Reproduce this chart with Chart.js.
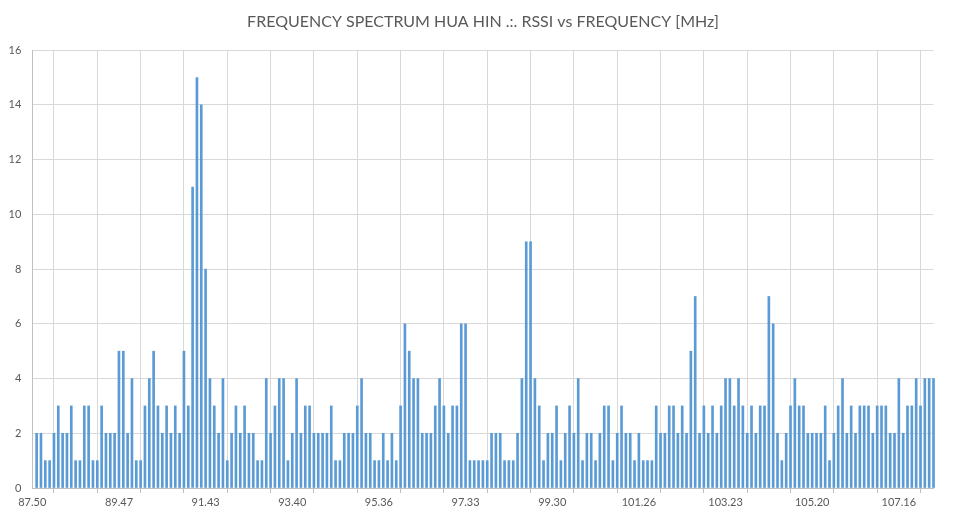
<!DOCTYPE html>
<html>
<head>
<meta charset="utf-8">
<script src="https://cdn.jsdelivr.net/npm/chart.js@4.4.0/dist/chart.umd.min.js"></script>
<style>
 html,body{margin:0;padding:0;background:#fff;}
 #wrap{width:966px;height:520px;}
</style>
</head>
<body>
<div id="wrap"><canvas id="chart1" width="966" height="520"></canvas></div>
<script>
// x axis labels shown every 20 channels, first channel sits on the y axis
const tickLabels=["87.50","89.47","91.43","93.40","95.36","97.33","99.30","101.26","103.23","105.20","107.16"];
const freqStart=87.5, freqStep=0.0983;
// RSSI per channel (first slot is empty, on the axis)
const rssi=[null,
 2,2,1,1,2,3,2,2,3,1, 1,3,3,1,1,3,2,2,2,5,
 5,2,4,1,1,3,4,5,3,2, 3,2,3,2,5,3,11,15,14,8,
 4,3,2,4,1,2,3,2,3,2, 2,1,1,4,2,3,4,4,1,2,
 4,2,3,3,2,2,2,2,3,1, 1,2,2,2,3,4,2,2,1,1,
 2,1,2,1,3,6,5,4,4,2, 2,2,3,4,3,2,3,3,6,6,
 1,1,1,1,1,2,2,2,1,1, 1,2,4,9,9,4,3,1,2,2,
 3,1,2,3,2,4,1,2,2,1, 2,3,3,1,2,3,2,2,1,2,
 1,1,1,3,2,2,3,3,2,3, 2,5,7,2,3,2,3,2,3,4,
 4,3,4,3,2,3,2,3,3,7, 6,2,1,2,3,4,3,3,2,2,
 2,2,3,1,2,3,4,2,3,2, 3,3,3,2,3,3,3,2,2,4,
 2,3,3,4,3,4,4,4];
const categories=rssi.map((v,i)=>(freqStart+i*freqStep).toFixed(2));

const grey="#595959";
new Chart(document.getElementById("chart1").getContext("2d"),{
 type:"bar",
 data:{labels:categories,
  datasets:[{label:"RSSI",data:rssi,backgroundColor:"#5b9bd5",barThickness:2,clip:false}]},
 options:{
  responsive:false,animation:false,
  layout:{padding:0},
  plugins:{
   legend:{display:false},tooltip:{enabled:false},
   title:{display:true,text:"FREQUENCY SPECTRUM HUA HIN .:. RSSI vs FREQUENCY [MHz]",
    color:grey,font:{family:"Lato",size:16,weight:"normal"},padding:{top:12,bottom:19}}
  },
  scales:{
   x:{offset:false,
    grid:{color:"#d9d9d9",tickLength:5,tickColor:"#bfbfbf",drawOnChartArea:true},
    border:{color:"#bfbfbf"},
    ticks:{autoSkip:false,maxRotation:0,minRotation:0,padding:3,color:grey,
     font:{family:"Lato",size:11},
     callback:function(v,i){
      if(i%20===0) return tickLabels[i/20];
      if(i%10===0) return "";
      return null;
     }},
    afterFit:s=>{s.height=32;}
   },
   y:{min:0,max:16,
    grid:{color:"#d9d9d9",drawTicks:false},
    border:{color:"#bfbfbf"},
    ticks:{stepSize:2,padding:11,color:grey,font:{family:"Lato",size:11}},
    afterFit:s=>{s.width=32.3;}
   },
   // empty right margin so the title stays centred on the page
   yRight:{position:"right",min:0,max:16,
    grid:{display:false},border:{display:false},ticks:{display:false},
    afterFit:s=>{s.width=32.5;}
   }
  }
 }
});
</script>
</body>
</html>
